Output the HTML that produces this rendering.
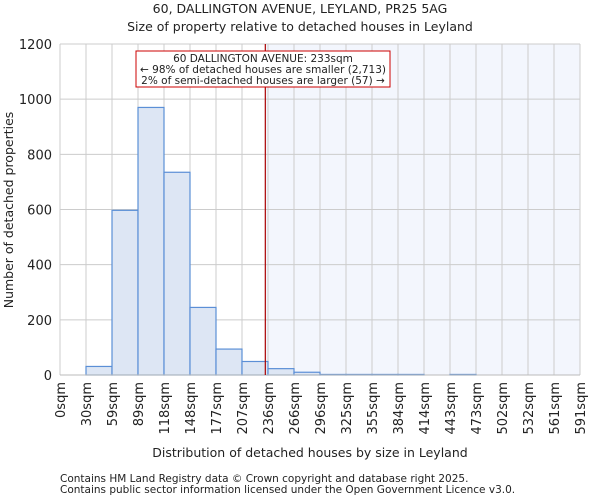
<!DOCTYPE html>
<html><head><meta charset="utf-8"><style>
body{margin:0;background:#fff;font-family:"DejaVu Sans","Liberation Sans",sans-serif;}
svg text{font-family:"DejaVu Sans","Liberation Sans",sans-serif;fill:#222;}
</style></head><body>
<svg id="chart" width="600" height="500">
<text x="300" y="13" font-size="12.5" text-anchor="middle">60, DALLINGTON AVENUE, LEYLAND, PR25 5AG</text>
<text x="300" y="31" font-size="12.5" text-anchor="middle">Size of property relative to detached houses in Leyland</text>
<g id="grid"></g><g id="bars"></g><g id="axes"></g>
<text x="310" y="457" font-size="12.5" text-anchor="middle">Distribution of detached houses by size in Leyland</text>
<text transform="translate(13,210) rotate(-90)" font-size="12.5" text-anchor="middle">Number of detached properties</text>
<text x="60" y="482" font-size="10.5" fill="#444">Contains HM Land Registry data © Crown copyright and database right 2025.</text>
<text x="60" y="493" font-size="10.5" fill="#444">Contains public sector information licensed under the Open Government Licence v3.0.</text>
</svg>
<script>
const binLabels=["0sqm","30sqm","59sqm","89sqm","118sqm","148sqm","177sqm","207sqm","236sqm","266sqm","296sqm","325sqm","355sqm","384sqm","414sqm","443sqm","473sqm","502sqm","532sqm","561sqm","591sqm"];
const binEdges=[0,30,59,89,118,148,177,207,236,266,296,325,355,384,414,443,473,502,532,561,591];
const counts=[0,31,597,970,735,245,94,49,23,10,2,2,2,2,0,2,0,0,0,0];
const yTicks=[0,200,400,600,800,1000,1200];
const subjectSize=233;
const NS="http://www.w3.org/2000/svg";
const L=60,R=580,T=44,B=375,n=counts.length,bw=(R-L)/n;
const xIdx=i=>L+i*bw;
const xVal=v=>{let i=0;while(i<binEdges.length-2&&v>binEdges[i+1])i++;return xIdx(i+(v-binEdges[i])/(binEdges[i+1]-binEdges[i]));};
const y=v=>B-(v/1200)*(B-T);
function mk(tag,attrs,parent){const e=document.createElementNS(NS,tag);for(const k in attrs)e.setAttribute(k,attrs[k]);parent.appendChild(e);return e;}
const grid=document.getElementById('grid'),bars=document.getElementById('bars'),axes=document.getElementById('axes');
const sx=xVal(subjectSize);
let sh=mk('rect',{x:sx,y:T,width:R-sx,height:B-T,fill:'#f3f6fd'},grid);


for(let i=0;i<=n;i++){const g=mk('line',{x1:xIdx(i),x2:xIdx(i),y1:T,y2:B,stroke:'#cccccc','stroke-width':1},grid);

}
yTicks.forEach(t=>{const g=mk('line',{x1:L,x2:R,y1:y(t),y2:y(t),stroke:'#cccccc','stroke-width':1},grid);


const tx=mk('text',{x:L-8,y:y(t)+5,'font-size':13,'text-anchor':'end'},axes);tx.textContent=t;

});
counts.forEach((c,i)=>{if(c<=0)return;const r=mk('rect',{x:xIdx(i),y:y(c),width:bw,height:B-y(c),fill:'#dde6f4',stroke:'#5b8fd6','stroke-width':1.2},bars);

});
binLabels.forEach((l,i)=>{const tx=mk('text',{transform:`translate(${xIdx(i)+5},382) rotate(-90)`,'font-size':13,'text-anchor':'end'},axes);tx.textContent=l;

});
const ax=mk('line',{x1:L,x2:R,y1:B,y2:B,stroke:'#bbbbbb'},axes);


const rl=mk('line',{x1:sx,x2:sx,y1:T,y2:B,stroke:'#aa0000','stroke-width':1.2},axes);


const box=mk('rect',{x:136,y:51,width:254,height:36,fill:'#fff',stroke:'#cc0000','stroke-width':1},axes);


["60 DALLINGTON AVENUE: "+subjectSize+"sqm","← 98% of detached houses are smaller (2,713)","2% of semi-detached houses are larger (57) →"].forEach((s,i)=>{const tx=mk('text',{x:263,y:62+i*11,'font-size':10.5,'text-anchor':'middle'},axes);tx.textContent=s;

});
</script>
</body></html>
